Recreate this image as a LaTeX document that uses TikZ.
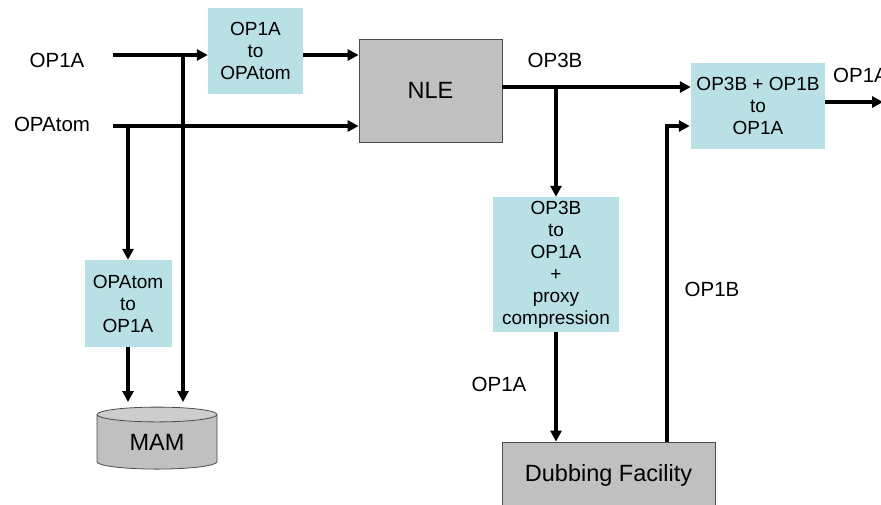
\documentclass[tikz,border=0pt]{standalone}
\usepackage{fontspec}
\setmainfont{Liberation Sans}
\usetikzlibrary{arrows.meta,shapes.geometric}
\definecolor{boxblue}{HTML}{B9E0E4}
\definecolor{boxgray}{HTML}{C0C0C0}
\begin{document}
\begin{tikzpicture}[x=1pt,y=-1pt,
  every node/.style={font=\fontsize{19}{22}\selectfont, inner sep=0pt},
  conv/.style={fill=boxblue, align=center},
  unit/.style={fill=boxgray, draw=black!70, line width=0.8pt, align=center, font=\fontsize{23.5}{27}\selectfont},
  lbl/.style={font=\fontsize{20.5}{24}\selectfont},
  arr/.style={line width=3.2pt, -{Triangle[length=11pt,width=11pt]}}]
\useasboundingbox (0,0) rectangle (881,504);
\clip (0,0) rectangle (881,504);
% nodes
\node[conv, minimum width=95pt, minimum height=86pt] (box1) at (255.5,51) {OP1A\\to\\OPAtom};
\node[unit, minimum width=143pt, minimum height=103pt] (nle) at (430.5,90.5) {NLE};
\node[conv, minimum width=87pt, minimum height=87pt] (box2) at (128,303.5) {OPAtom\\to\\OP1A};
\node[cylinder, shape border rotate=90, aspect=0.27, draw=black!70, line width=0.8pt,
      cylinder uses custom fill, cylinder body fill=boxgray, cylinder end fill=boxgray!80,
      font=\fontsize{23.5}{27}\selectfont,
      minimum width=120pt, minimum height=62pt] (mam) at (157,442) {MAM};
\node[conv, minimum width=134pt, minimum height=86pt] (box4) at (758,106) {OP3B + OP1B\\to\\OP1A};
\node[conv, minimum width=126pt, minimum height=135pt] (box3) at (556,264.5) {OP3B\\to\\OP1A\\+\\proxy\\compression};
\node[unit, minimum width=213pt, minimum height=66pt] (dub) at (608.5,475) {Dubbing Facility};
% labels
\node[lbl] (l1) at (57,60) {OP1A};
\node[lbl] (l2) at (52,124) {OPAtom};
\node[lbl] (l3) at (555,60) {OP3B};
\node[lbl, anchor=west] (l4) at (833,75) {OP1A};
\node[lbl] (l5) at (712,289) {OP1B};
\node[lbl] (l6) at (499,384) {OP1A};
% coordinates
\coordinate (in1) at (113,55);
\coordinate (in2) at (113,126);
\coordinate (b1) at (183,55);
\coordinate (b2) at (128,126);
\coordinate (mamtop) at (157,402);
\coordinate (o3) at (502,87);
\coordinate (b3) at (556,87);
\coordinate (k) at (667,126);
\coordinate (o4) at (825,102);
\coordinate (o4end) at (883,102);
% connectors
\draw[arr] (in1) -- (in1 -| box1.west);
\draw[arr] (box1.east |- in1) -- (in1 -| nle.west);
\draw[arr] (in2) -- (in2 -| nle.west);
\draw[arr] (b1) -- (b1 |- mamtop);
\draw[arr] (b2) -- (box2.north);
\draw[arr] (box2.south) -- (box2.south |- mamtop);
\draw[arr] (o3) -- (o3 -| box4.west);
\draw[arr] (b3) -- (box3.north);
\draw[arr] (box3.south) -- (box3.south |- dub.north);
\draw[arr] (k |- dub.north) -- (k) -- ([xshift=-1pt]k -| box4.west);
\draw[arr] (o4) -- (o4end);
\end{tikzpicture}
\end{document}
